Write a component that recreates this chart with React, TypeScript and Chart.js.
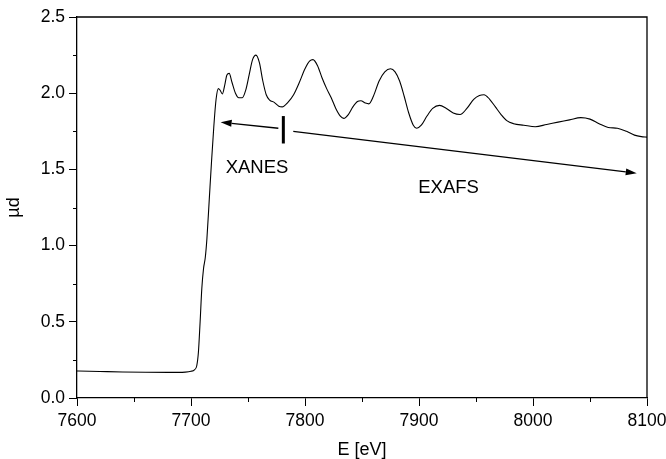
import React, { useEffect, useRef } from "react";
import { Chart, registerables } from "chart.js";

Chart.register(...registerables);

const energy: number[] = [
  7600, 7620, 7640, 7660, 7680, 7695, 7700, 7703, 7705, 7706.5, 7708, 7709.5, 7711, 7712.5, 7714, 7716, 7718, 7720,
  7722, 7724, 7725.5, 7727.5, 7729.5, 7731.5, 7733.5, 7736, 7739, 7742, 7745, 7748, 7751, 7754, 7757, 7760, 7763,
  7766, 7769, 7773, 7777, 7780, 7785, 7790, 7795, 7800, 7804, 7807, 7811, 7815, 7819, 7823, 7827, 7831, 7834, 7838,
  7842, 7846, 7849, 7853, 7856, 7860, 7865, 7870, 7875, 7879, 7883, 7887, 7891, 7895, 7898, 7902, 7907, 7912, 7918,
  7924, 7930, 7936, 7942, 7948, 7953, 7957, 7962, 7967, 7972, 7977, 7983, 7992, 8002, 8012, 8022, 8032, 8042, 8050,
  8058, 8066, 8074, 8082, 8089, 8095, 8100,
];
const mud: number[] = [
  0.177, 0.174, 0.171, 0.169, 0.168, 0.17, 0.175, 0.185, 0.21, 0.3, 0.5, 0.72, 0.85, 0.92, 1.05, 1.3, 1.55, 1.78,
  1.96, 2.03, 2.02, 1.995, 2.05, 2.12, 2.13, 2.07, 2.0, 1.97, 1.97, 2.02, 2.12, 2.22, 2.25, 2.2, 2.08,
  1.99, 1.955, 1.94, 1.915, 1.91, 1.94, 1.99, 2.07, 2.16, 2.21, 2.22, 2.18, 2.1, 2.03, 1.97, 1.9, 1.85, 1.835, 1.86,
  1.91, 1.945, 1.95, 1.935, 1.93, 1.98, 2.08, 2.14, 2.16, 2.14, 2.08, 1.98, 1.87, 1.79, 1.77, 1.79, 1.85, 1.9, 1.92,
  1.9, 1.87, 1.86, 1.9, 1.96, 1.985, 1.99, 1.96, 1.91, 1.86, 1.82, 1.8, 1.79, 1.78, 1.795, 1.81, 1.825, 1.84, 1.83,
  1.8, 1.775, 1.77, 1.75, 1.725, 1.715, 1.712,
];

// Annotation arrows: [fromE, fromY, toE(tip), toY]
const xanesArrow: number[] = [7776.6, 1.77, 7726, 1.81];
const exafsArrow: number[] = [7789.7, 1.75, 8091, 1.475];
// Separator bar: [E, yLow, yHigh]
const separatorBar: number[] = [7781, 1.67, 1.85];
const labelTexts: string[] = ["XANES", "EXAFS"];
const labelE: number[] = [7757.9, 7925.9];
const labelY: number[] = [1.509, 1.376];

const FONT = "'Liberation Sans', Arial, Helvetica, sans-serif";

const decorPlugin = {
  id: "decor",
  afterDraw(chart: any) {
    const { ctx, chartArea } = chart;
    const xs = chart.scales.x;
    const ys = chart.scales.y;
    ctx.save();
    ctx.strokeStyle = "#000";
    ctx.fillStyle = "#000";
    // frame top/right
    ctx.lineWidth = 1.3;
    ctx.beginPath();
    ctx.moveTo(chartArea.left, chartArea.top);
    ctx.lineTo(chartArea.right, chartArea.top);
    ctx.lineTo(chartArea.right, chartArea.bottom);
    ctx.stroke();
    // minor ticks
    ctx.lineWidth = 1;
    ctx.beginPath();
    for (let v = 7650; v < 8100; v += 100) {
      const px = Math.round(xs.getPixelForValue(v)) + 0.5;
      ctx.moveTo(px, chartArea.bottom);
      ctx.lineTo(px, chartArea.bottom + 4);
    }
    for (let v = 0.25; v < 2.5; v += 0.5) {
      const py = Math.round(ys.getPixelForValue(v)) + 0.5;
      ctx.moveTo(chartArea.left, py);
      ctx.lineTo(chartArea.left - 4, py);
    }
    ctx.stroke();

    const arrow = (a: number[]) => {
      const x1 = xs.getPixelForValue(a[0]);
      const y1 = ys.getPixelForValue(a[1]);
      const x2 = xs.getPixelForValue(a[2]);
      const y2 = ys.getPixelForValue(a[3]);
      const ang = Math.atan2(y2 - y1, x2 - x1);
      const hl = 11;
      const hw = 3.5;
      const bx = x2 - hl * Math.cos(ang);
      const by = y2 - hl * Math.sin(ang);
      ctx.lineWidth = 1.3;
      ctx.beginPath();
      ctx.moveTo(x1, y1);
      ctx.lineTo(bx, by);
      ctx.stroke();
      ctx.beginPath();
      ctx.moveTo(x2, y2);
      ctx.lineTo(bx + hw * Math.sin(ang), by - hw * Math.cos(ang));
      ctx.lineTo(bx - hw * Math.sin(ang), by + hw * Math.cos(ang));
      ctx.closePath();
      ctx.fill();
    };
    arrow(xanesArrow);
    arrow(exafsArrow);

    ctx.lineWidth = 3;
    ctx.beginPath();
    const bxp = xs.getPixelForValue(separatorBar[0]);
    ctx.moveTo(bxp, ys.getPixelForValue(separatorBar[1]));
    ctx.lineTo(bxp, ys.getPixelForValue(separatorBar[2]));
    ctx.stroke();

    ctx.font = `18.5px ${FONT}`;
    ctx.textAlign = "center";
    ctx.textBaseline = "middle";
    labelTexts.forEach((t, i) => {
      ctx.fillText(t, xs.getPixelForValue(labelE[i]), ys.getPixelForValue(labelY[i]));
    });
    ctx.restore();
  },
};

export default function App() {
  const ref = useRef<HTMLCanvasElement | null>(null);
  useEffect(() => {
    document.body.style.margin = "0";
    const canvas = ref.current;
    if (!canvas) return;
    const chart = new Chart(canvas, {
      type: "line",
      data: {
        datasets: [
          {
            data: energy.map((e, i) => ({ x: e, y: mud[i] })),
            borderColor: "#000",
            borderWidth: 1.1,
            pointRadius: 0,
            cubicInterpolationMode: "monotone",
            fill: false,
          },
        ],
      },
      options: {
        responsive: false,
        animation: false,
        events: [],
        layout: { padding: { top: 17, right: 0, left: 0, bottom: 0 } },
        plugins: { legend: { display: false }, tooltip: { enabled: false } },
        scales: {
          x: {
            type: "linear",
            min: 7600,
            max: 8100,
            afterFit: (s: any) => {
              s.height = 61;
              s.paddingRight = 19;
            },
            ticks: {
              stepSize: 100,
              color: "#000",
              font: { family: FONT, size: 17.5 },
              padding: 5,
              maxRotation: 0,
              callback: (v: any) => String(Math.round(Number(v))),
            },
            grid: { display: true, drawOnChartArea: false, drawTicks: true, tickLength: 8, color: "#000", tickColor: "#000", lineWidth: 1 },
            border: { display: true, color: "#000", width: 1.3 },
            title: { display: true, text: "E [eV]", color: "#000", font: { family: FONT, size: 18 }, padding: { top: 0, bottom: -2 } },
          },
          y: {
            type: "linear",
            min: 0,
            max: 2.5,
            afterFit: (s: any) => {
              s.width = 77;
            },
            ticks: {
              stepSize: 0.5,
              color: "#000",
              font: { family: FONT, size: 17.5 },
              padding: 4,
              callback: (v: any) => Number(v).toFixed(1),
            },
            grid: { display: true, drawOnChartArea: false, drawTicks: true, tickLength: 8, color: "#000", tickColor: "#000", lineWidth: 1 },
            border: { display: true, color: "#000", width: 1.3 },
            title: { display: true, text: "µd", color: "#000", font: { family: FONT, size: 18 }, padding: { top: 3, bottom: 0 } },
          },
        },
      },
      plugins: [decorPlugin],
    } as any);
    return () => chart.destroy();
  }, []);
  return (
    <div style={{ position: "absolute", left: 0, top: 0, width: 666, height: 459 }}>
      <canvas ref={ref} width={666} height={459} style={{ width: 666, height: 459, display: "block" }} />
    </div>
  );
}
